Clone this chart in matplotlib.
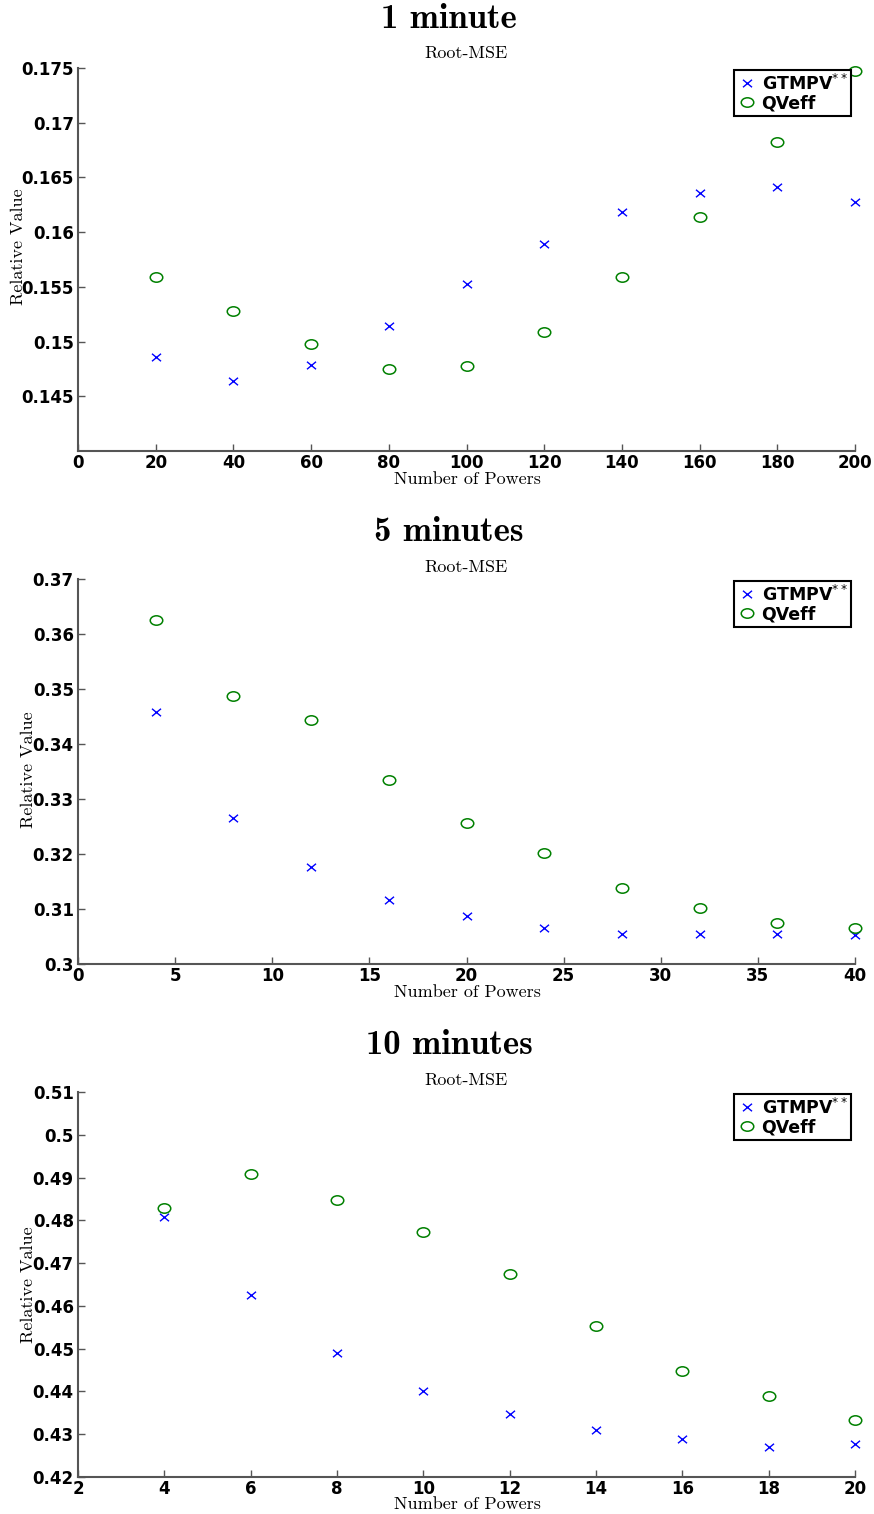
import numpy as np
import matplotlib
matplotlib.use("Agg")
import matplotlib.pyplot as plt
from matplotlib.path import Path
from matplotlib.transforms import Affine2D

# ---- data ----
titles = ["1 minute", "5 minutes", "10 minutes"]

x1 = [20, 40, 60, 80, 100, 120, 140, 160, 180, 200]
gtmpv1 = [0.1486, 0.1464, 0.1479, 0.1514, 0.1553, 0.1589, 0.1618, 0.1636, 0.1641, 0.1628]
qveff1 = [0.1559, 0.1528, 0.1498, 0.1475, 0.1478, 0.1509, 0.1559, 0.1614, 0.1682, 0.1747]

x2 = [4, 8, 12, 16, 20, 24, 28, 32, 36, 40]
gtmpv2 = [0.3459, 0.3266, 0.3176, 0.3116, 0.3088, 0.3066, 0.3055, 0.3055, 0.3055, 0.3053]
qveff2 = [0.3626, 0.3487, 0.3444, 0.3334, 0.3257, 0.3202, 0.3138, 0.3101, 0.3075, 0.3065]

x3 = [4, 6, 8, 10, 12, 14, 16, 18, 20]
gtmpv3 = [0.4807, 0.4625, 0.4489, 0.4400, 0.4347, 0.4311, 0.4289, 0.4270, 0.4276]
qveff3 = [0.4829, 0.4908, 0.4847, 0.4772, 0.4674, 0.4554, 0.4447, 0.4389, 0.4334]

xticks = [list(range(0, 201, 20)), list(range(0, 41, 5)), list(range(2, 21, 2))]
yticks = [[0.145, 0.15, 0.155, 0.16, 0.165, 0.17, 0.175],
          [0.30, 0.31, 0.32, 0.33, 0.34, 0.35, 0.36, 0.37],
          [0.42, 0.43, 0.44, 0.45, 0.46, 0.47, 0.48, 0.49, 0.50, 0.51]]
ylabels = [["0.145", "0.15", "0.155", "0.16", "0.165", "0.17", "0.175"],
           ["0.3", "0.31", "0.32", "0.33", "0.34", "0.35", "0.36", "0.37"],
           ["0.42", "0.43", "0.44", "0.45", "0.46", "0.47", "0.48", "0.49", "0.5", "0.51"]]
xlims = [(0, 200), (0, 40), (2, 20)]
ylims = [(0.14, 0.175), (0.30, 0.37), (0.42, 0.51)]

series_x = [x1, x2, x3]
series_g = [gtmpv1, gtmpv2, gtmpv3]
series_q = [qveff1, qveff2, qveff3]

# ---- style ----
W, H = 874, 1514
fig = plt.figure(figsize=(W / 100, H / 100), dpi=100)

ell = Path.unit_circle().transformed(Affine2D().scale(1.33, 1.0))
xm_verts = [(-1.2, -1), (1.2, 1), (-1.2, 1), (1.2, -1)]
xm = Path(xm_verts, [Path.MOVETO, Path.LINETO, Path.MOVETO, Path.LINETO])

# pixel geometry of the panels (top, bottom)
panels = [(68, 451), (579, 964), (1092, 1477)]
left_px, right_px = 78, 855
title_y = [19, 532, 1045]
sub_y = [53, 567, 1080]
xlab_y = [479, 992, 1504]
ylab_x = [18, 28, 28]
ylab_y = [247, 770, 1285]

green = "#008000"
spine_c = "#555555"

for i in range(3):
    top, bot = panels[i]
    ax = fig.add_axes([left_px / W, 1 - bot / H, (right_px - left_px) / W, (bot - top) / H])
    ax.plot(series_x[i], series_g[i], linestyle="none", marker=xm, markersize=6.5,
            markeredgecolor="blue", markerfacecolor="none", markeredgewidth=1.0,
            label=r"$\mathbf{GTMPV}^{**}$", clip_on=False, zorder=3)
    ax.plot(series_x[i], series_q[i], linestyle="none", marker=ell, markersize=9,
            markeredgecolor=green, markerfacecolor="none", markeredgewidth=1.1,
            label="QVeff", clip_on=False, zorder=3)
    ax.set_xlim(*xlims[i])
    ax.set_ylim(*ylims[i])
    ax.set_xticks(xticks[i])
    ax.set_xticklabels([str(v) for v in xticks[i]], fontsize=12, fontweight="bold",
                       family="DejaVu Sans")
    ax.set_yticks(yticks[i])
    ax.set_yticklabels(ylabels[i], fontsize=12, fontweight="bold", family="DejaVu Sans")
    for s in ["top", "right"]:
        ax.spines[s].set_visible(False)
    for s in ["left", "bottom"]:
        ax.spines[s].set_color(spine_c)
        ax.spines[s].set_linewidth(1.5)
    ax.tick_params(direction="in", length=5, width=1, color=spine_c, pad=3)
    ax.tick_params(axis="x", pad=2)
    leg = ax.legend(loc="upper right", bbox_to_anchor=(1.0 - 4 / (right_px - left_px), 1.0 - 2 / (bot - top)),
                    frameon=True, fancybox=False, edgecolor="black",
                    prop={"family": "DejaVu Sans", "weight": "bold", "size": 12.5},
                    handletextpad=0.3, borderpad=0.2, labelspacing=0.05,
                    handlelength=1.1, borderaxespad=0.0)
    leg.get_frame().set_linewidth(1.5)
    leg.get_frame().set_alpha(1)

    fig.text(449 / W, 1 - title_y[i] / H, titles[i], ha="center", va="center",
             family="cmb10", fontsize=25)
    fig.text(466 / W, 1 - sub_y[i] / H, "Root-MSE", ha="center", va="center",
             family="cmr10", fontsize=13)
    fig.text(467 / W, 1 - xlab_y[i] / H, "Number of Powers", ha="center", va="center",
             family="cmr10", fontsize=13)
    fig.text(ylab_x[i] / W, 1 - ylab_y[i] / H, "Relative Value", ha="center", va="center",
             rotation=90, family="cmr10", fontsize=13)

fig.savefig("out.png", dpi=100)
